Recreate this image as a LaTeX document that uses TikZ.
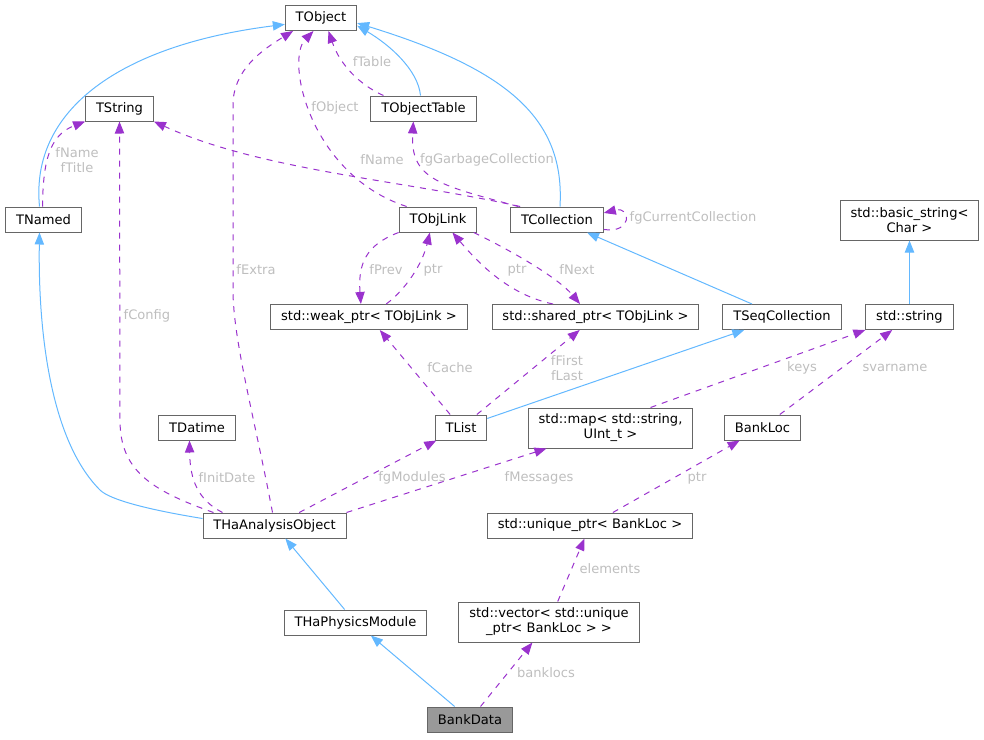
\documentclass[tikz,border=0pt]{standalone}
\usepackage{fontspec}
\setmainfont{DejaVu Sans}
\usetikzlibrary{arrows.meta,calc}
\definecolor{inhblue}{HTML}{63B8FF}
\definecolor{usepurple}{HTML}{9A32CD}
\definecolor{lblgray}{HTML}{BEBEBE}
\definecolor{boxgray}{HTML}{666666}
\definecolor{mainfill}{HTML}{999999}

\tikzset{
  cls/.style={draw=boxgray,line width=0.75pt,fill=white,font=\fontsize{9.8}{11.25}\selectfont,
    inner xsep=7.8pt,inner ysep=2pt,minimum height=18.75pt,align=center},
  cls2/.style={cls,minimum height=30pt},
  inherit/.style={inhblue,line width=0.75pt,->},
  usage/.style={usepurple,line width=0.75pt,dash pattern=on 4.5pt off 4.5pt,->},
  lbl/.style={lblgray,font=\fontsize{9.8}{11.25}\selectfont,align=center}
}

\begin{document}
\begin{tikzpicture}[x=0.75pt,y=-0.75pt,>={Triangle[length=9pt,width=7pt]}]
\useasboundingbox (0,0) rectangle (984,739);

\node[cls] (tobject) at (321,18) {TObject};
\node[cls] (tstring) at (119.5,108.5) {TString};
\node[cls] (tobjtable) at (423.5,108.5) {TObjectTable};
\node[cls] (tnamed) at (43.5,219.5) {TNamed};
\node[cls] (tobjlink) at (438,219.5) {TObjLink};
\node[cls] (tcoll) at (557,219.5) {TCollection};
\node[cls2] (basicstr) at (909.5,220) {std::basic\_string<\\Char >};
\node[cls] (weakptr) at (369,317) {std::weak\_ptr< TObjLink >};
\node[cls] (sharedptr) at (595.5,317) {std::shared\_ptr< TObjLink >};
\node[cls] (tseqcoll) at (782,317) {TSeqCollection};
\node[cls] (stdstring) at (909.5,317) {std::string};
\node[cls] (tdatime) at (197,427.5) {TDatime};
\node[cls] (tlist) at (461,427.5) {TList};
\node[cls2] (stdmap) at (610.5,428) {std::map< std::string,\\UInt\_t >};
\node[cls] (bankloc) at (762.5,427.5) {BankLoc};
\node[cls] (thaao) at (274.5,525.5) {THaAnalysisObject};
\node[cls] (uniqueptr) at (590,525.5) {std::unique\_ptr< BankLoc >};
\node[cls] (thaphys) at (355.5,622.5) {THaPhysicsModule};
\node[cls2] (vecptr) at (549,622) {std::vector< std::unique\\\_ptr< BankLoc > >};
\node[cls,fill=mainfill] (bankdata) at (470,719.5) {BankData};

% inheritance
\draw[inherit] ($(tnamed.north)+(-4,0)$) .. controls (30,110) and (120,45) .. (tobject.190);
\draw[inherit] ($(tobjtable.north)+(-3,0)$) .. controls (418,70) and (390,45) .. (tobject.-12);
\draw[inherit] ($(tcoll.north)+(3,0)$) .. controls (565,120) and (510,70) .. (tobject.-8);
\draw[inherit] ($(thaao.west)+(0,-7)$) .. controls (150,510) and (110,500) .. (100,490)
  .. controls (50,440) and (38,330) .. ($(tnamed.south)+(-4,0)$);
\draw[inherit] (tseqcoll) -- (tcoll);
\draw[inherit] (tlist) -- (tseqcoll);
\draw[inherit] (stdstring) -- (basicstr);
\draw[inherit] (thaphys) -- (thaao);
\draw[inherit] (bankdata) -- (thaphys);

% members
\draw[usage] ($(tobjtable.north west)+(13,0)$) .. controls (360,85) and (340,65) .. (tobject.-60);
\draw[usage] ($(tobjlink.north west)+(8,0)$) .. controls (310,175) and (285,60) .. (tobject.-120);
\draw[usage] ($(thaao.north)+(-2,0)$) .. controls (255,420) and (233,340) .. (233,290) -- (233,105)
  .. controls (233,70) and (262,50) .. (tobject.-155);
\draw[usage] ($(tnamed.north)+(-1,0)$) .. controls (43,160) and (50,135) .. (tstring.south west);
\draw[usage] ($(tcoll.north west)+(10,0)$) .. controls (400,180) and (260,170) .. (tstring.south east);
\draw[usage] ($(thaao.north west)+(11,0)$) .. controls (150,490) and (120,470) .. (120,420) -- (tstring.south);
\draw[usage] ($(tcoll.north west)+(8,0)$) .. controls (440,185) and (410,180) .. (tobjtable.-128);
\draw[usage] (tcoll.-12) .. controls (632,234) and (632,206) .. (tcoll.8);
\draw[usage] (tobjlink.south west) .. controls (365,245) and (358,265) .. (weakptr.122);
\draw[usage] (weakptr.37) .. controls (405,290) and (422,265) .. (tobjlink.-122);
\draw[usage] (sharedptr.163) .. controls (510,295) and (480,265) .. (tobjlink.-42);
\draw[usage] (tobjlink.-20) .. controls (520,255) and (560,280) .. (sharedptr.140);
\draw[usage] (tlist) -- (weakptr);
\draw[usage] (tlist) -- (sharedptr);
\draw[usage] ($(thaao.north west)+(20,0)$) .. controls (198,500) and (190,480) .. (tdatime.-120);
\draw[usage] (thaao) -- (tlist);
\draw[usage] (thaao.north east) -- (stdmap);
\draw[usage] ($(stdmap.north)+(40,0)$) -- (stdstring.south west);
\draw[usage] (bankloc) -- (stdstring);
\draw[usage] (uniqueptr) -- (bankloc);
\draw[usage] (vecptr) -- (uniqueptr);
\draw[usage] (bankdata) -- (vecptr);

\node[lbl] (l-ftable) at (372,62) {fTable};
\node[lbl] (l-fobject) at (335,108) {fObject};
\node[lbl] (l-fname) at (382,160) {fName};
\node[lbl] (l-fgarbage) at (487,160) {fgGarbageCollection};
\node[lbl] (l-fnametitle) at (77,160) {fName\\fTitle};
\node[lbl] (l-fcurrent) at (693,218) {fgCurrentCollection};
\node[lbl] (l-fextra) at (256,270) {fExtra};
\node[lbl] (l-fprev) at (386,270) {fPrev};
\node[lbl] (l-ptr1) at (433,270) {ptr};
\node[lbl] (l-ptr2) at (517,270) {ptr};
\node[lbl] (l-fnext) at (577,270) {fNext};
\node[lbl] (l-fconfig) at (147,316) {fConfig};
\node[lbl] (l-fcache) at (450,368) {fCache};
\node[lbl] (l-ffirst) at (567,368) {fFirst\\fLast};
\node[lbl] (l-keys) at (802,368) {keys};
\node[lbl] (l-svarname) at (895,368) {svarname};
\node[lbl] (l-finit) at (227,478) {fInitDate};
\node[lbl] (l-fmodules) at (412,478) {fgModules};
\node[lbl] (l-fmessages) at (539,478) {fMessages};
\node[lbl] (l-ptr3) at (697,478) {ptr};
\node[lbl] (l-elements) at (610,569) {elements};
\node[lbl] (l-banklocs) at (546,673) {banklocs};
\end{tikzpicture}
\end{document}
